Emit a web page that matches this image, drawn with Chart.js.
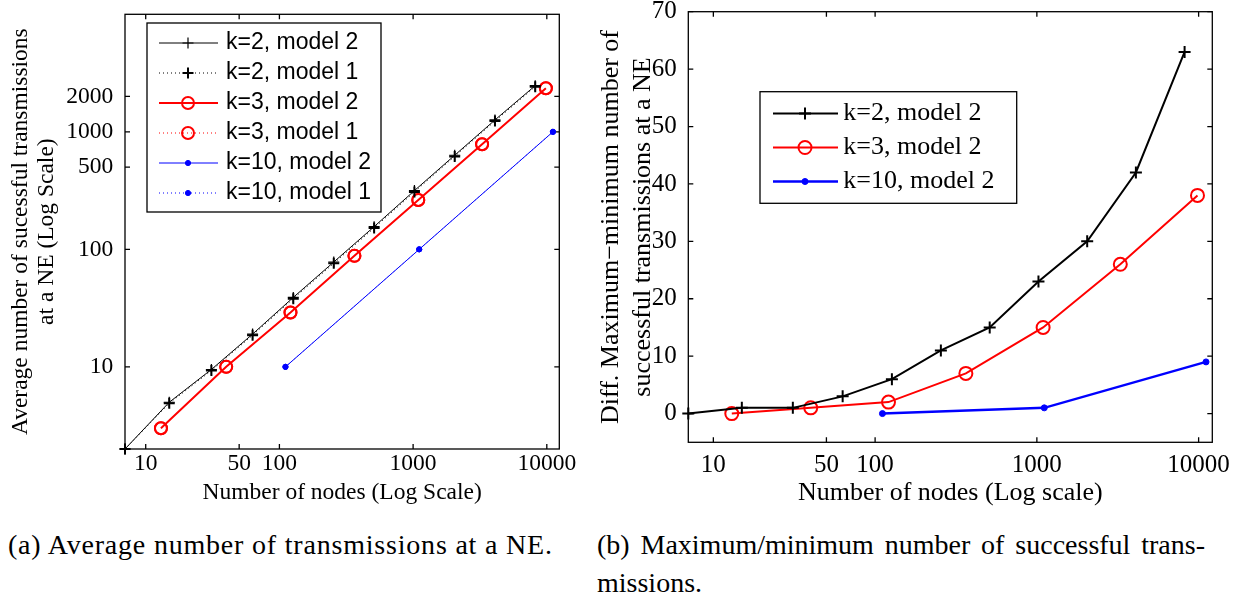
<!DOCTYPE html>
<html>
<head>
<meta charset="utf-8">
<script src="https://cdn.jsdelivr.net/npm/chart.js@4.4.1/dist/chart.umd.min.js"></script>
<style>
  body { margin: 0; background: #fff; width: 1237px; height: 599px; position: relative; overflow: hidden; }
  canvas { position: absolute; top: 0; }
  #avg-chart { left: 0; }
  #diff-chart { left: 590px; }
  .caption { position: absolute; font-family: 'Liberation Serif', serif; font-size: 28px; line-height: 1; color: #000; white-space: nowrap; }
  #cap-a { left: 8px; top: 531px; letter-spacing: 0.8px; }
  #cap-b { left: 597px; top: 531px; width: 608px; text-align: justify; text-align-last: justify; }
  #cap-b2 { left: 597px; top: 569px; }
</style>
</head>
<body>
<canvas id="avg-chart" width="590" height="520"></canvas>
<canvas id="diff-chart" width="647" height="520"></canvas>
<div class="caption" id="cap-a">(a) Average number of transmissions at a NE.</div>
<div class="caption" id="cap-b">(b) Maximum/minimum number of successful trans-</div>
<div class="caption" id="cap-b2">missions.</div>
<script>
// network sizes for each branching factor
const nodesK2 = [7, 15, 31, 63, 127, 255, 511, 1023, 2047, 4095, 8191];
const nodesK3 = [13, 40, 121, 364, 1093, 3280, 9841];
const nodesK10 = [111, 1111, 11111];

// average number of successful transmissions at a NE
const avgK2Model2 = [2, 5, 9.5, 19, 39, 78, 156, 316, 632, 1262, 2470];
const avgK2Model1 = [2, 4.9, 9.3, 18.6, 38, 76, 152, 308, 618, 1235, 2420];
const avgK3Model2 = [3, 10, 29, 88, 263, 784, 2350];
const avgK3Model1 = [3, 10, 29, 88, 263, 784, 2350];
const avgK10Model2 = [10, 100, 1000];
const avgK10Model1 = [10, 100, 1000];

// max - min number of successful transmissions
const diffK2 = [0, 1, 1, 3, 6, 11, 15, 23, 30, 42, 63];
const diffK3 = [0, 1, 2, 7, 15, 26, 38];
const diffK10 = [0, 1, 9];

const nodeTicks = [10, 50, 100, 1000, 10000];
const avgTicks = [10, 100, 500, 1000, 2000];
const diffTicks = [0, 10, 20, 30, 40, 50, 60, 70];

const SERIF = "'Liberation Serif', 'Times New Roman', serif";
const SANS = "'Liberation Sans', Arial, sans-serif";
const BLACK = '#000000', RED = '#ff0000', BLUE = '#0000ff';

function points(xs, ys) {
    return xs.map((x, i) => ({ x, y: ys[i] }));
}

// fixed axis box sizes, no extra room for the end labels
function fixHeight(h) {
    return s => { s.height = h; s.paddingLeft = 0; s.paddingRight = 0; s.paddingTop = 0; s.paddingBottom = 0; };
}
function fixWidth(w) {
    return s => { s.width = w; s.paddingLeft = 0; s.paddingRight = 0; s.paddingTop = 0; s.paddingBottom = 0; };
}

function drawMark(ctx, ds, x, y) {
    const r = ds.pointRadius;
    ctx.save();
    ctx.strokeStyle = ds.borderColor;
    ctx.lineWidth = ds.pointBorderWidth;
    ctx.beginPath();
    if (ds.pointStyle === 'cross') {
        ctx.moveTo(x - r, y); ctx.lineTo(x + r, y);
        ctx.moveTo(x, y - r); ctx.lineTo(x, y + r);
        ctx.stroke();
    } else {
        ctx.arc(x, y, r, 0, Math.PI * 2);
        ctx.fillStyle = ds.pointBackgroundColor;
        ctx.fill();
        ctx.stroke();
    }
    ctx.restore();
}

// box + inward tick marks on all four sides
const frameTicks = {
    id: 'frameTicks',
    beforeDatasetsDraw(chart, args, opts) {
        const { ctx, chartArea: a, scales: { x, y } } = chart;
        const len = opts.length;
        ctx.save();
        ctx.strokeStyle = BLACK;
        ctx.lineWidth = opts.lineWidth;
        ctx.beginPath();
        x.ticks.forEach(t => {
            const px = x.getPixelForValue(t.value);
            ctx.moveTo(px, a.bottom); ctx.lineTo(px, a.bottom - len);
            ctx.moveTo(px, a.top); ctx.lineTo(px, a.top + len);
        });
        y.ticks.forEach(t => {
            const py = y.getPixelForValue(t.value);
            ctx.moveTo(a.left, py); ctx.lineTo(a.left + len, py);
            ctx.moveTo(a.right, py); ctx.lineTo(a.right - len, py);
        });
        ctx.stroke();
        ctx.strokeRect(a.left, a.top, a.right - a.left, a.bottom - a.top);
        ctx.restore();
    }
};

// legend drawn inside the plot box
const boxLegend = {
    id: 'boxLegend',
    afterDraw(chart, args, o) {
        const ctx = chart.ctx;
        ctx.save();
        ctx.fillStyle = '#fff';
        ctx.fillRect(o.left, o.top, o.width, o.height);
        ctx.strokeStyle = BLACK;
        ctx.lineWidth = 1.3;
        ctx.strokeRect(o.left, o.top, o.width, o.height);
        chart.data.datasets.forEach((ds, i) => {
            const yy = o.rows[i];
            ctx.strokeStyle = ds.borderColor;
            ctx.lineWidth = ds.borderWidth;
            ctx.setLineDash(ds.borderDash || []);
            ctx.beginPath();
            ctx.moveTo(o.lineFrom, yy);
            ctx.lineTo(o.lineTo, yy);
            ctx.stroke();
            ctx.setLineDash([]);
            drawMark(ctx, ds, o.markAt, yy);
            ctx.fillStyle = BLACK;
            ctx.font = o.font;
            ctx.textBaseline = 'middle';
            ctx.fillText(ds.label, o.textAt, yy);
        });
        ctx.restore();
    }
};

function series(label, xs, ys, style) {
    return Object.assign({
        label,
        data: points(xs, ys),
        tension: 0,
        clip: false,
        pointBackgroundColor: 'rgba(0,0,0,0)',
        pointHoverRadius: 0
    }, style);
}

const avgChart = new Chart(document.getElementById('avg-chart'), {
    type: 'line',
    data: {
        datasets: [
            series('k=2, model 2', nodesK2, avgK2Model2, {
                borderColor: BLACK, borderWidth: 1, pointStyle: 'cross', pointRadius: 5.5, pointBorderWidth: 1.2
            }),
            series('k=2, model 1', nodesK2, avgK2Model1, {
                borderColor: BLACK, borderWidth: 1, borderDash: [1, 3], pointStyle: 'cross', pointRadius: 5.5, pointBorderWidth: 2
            }),
            series('k=3, model 2', nodesK3, avgK3Model2, {
                borderColor: RED, borderWidth: 2, pointStyle: 'circle', pointRadius: 6, pointBorderWidth: 2
            }),
            series('k=3, model 1', nodesK3, avgK3Model1, {
                borderColor: RED, borderWidth: 1, borderDash: [1, 3], pointStyle: 'circle', pointRadius: 6, pointBorderWidth: 2
            }),
            series('k=10, model 2', nodesK10, avgK10Model2, {
                borderColor: BLUE, borderWidth: 1, pointStyle: 'circle', pointRadius: 2.6, pointBorderWidth: 1, pointBackgroundColor: BLUE
            }),
            series('k=10, model 1', nodesK10, avgK10Model1, {
                borderColor: BLUE, borderWidth: 1, borderDash: [1, 3], pointStyle: 'circle', pointRadius: 2.6, pointBorderWidth: 1, pointBackgroundColor: BLUE
            })
        ]
    },
    options: {
        responsive: false,
        animation: false,
        events: [],
        layout: { padding: { left: 0, top: 14.3, right: 30.7, bottom: 0 } },
        plugins: {
            legend: { display: false },
            tooltip: { enabled: false },
            frameTicks: { length: 5, lineWidth: 1.3 },
            boxLegend: {
                left: 147, top: 23, width: 234, height: 189,
                rows: [43, 73, 103, 133, 163, 193],
                lineFrom: 159, lineTo: 218, markAt: 188, textAt: 226,
                font: '23px ' + SANS
            }
        },
        scales: {
            x: {
                type: 'logarithmic', min: 7, max: 12400,
                afterBuildTicks: s => { s.ticks = nodeTicks.map(v => ({ value: v })); },
                afterFit: fixHeight(71),
                ticks: { callback: v => String(v), autoSkip: false, maxRotation: 0, padding: 0.5, color: BLACK, font: { family: SERIF, size: 23.5 } },
                grid: { display: false, drawTicks: false },
                border: { display: false },
                title: { display: true, text: 'Number of nodes (Log Scale)', color: BLACK, font: { family: SERIF, size: 23.5 }, padding: { top: 0, bottom: 13 } }
            },
            y: {
                type: 'logarithmic', min: 2, max: 10000,
                afterBuildTicks: s => { s.ticks = avgTicks.map(v => ({ value: v })); },
                afterFit: fixWidth(125),
                ticks: { callback: v => String(v), autoSkip: false, padding: 11.7, color: BLACK, font: { family: SERIF, size: 23.5 } },
                grid: { display: false, drawTicks: false },
                border: { display: false },
                title: {
                    display: true,
                    text: ['Average number of sucessful transmissions', 'at a NE (Log Scale)'],
                    color: BLACK,
                    font: { family: SERIF, size: 23.5, lineHeight: 1.1 },
                    padding: { top: 8, bottom: 0 }
                }
            }
        }
    },
    plugins: [frameTicks, boxLegend]
});

const diffChart = new Chart(document.getElementById('diff-chart'), {
    type: 'line',
    data: {
        datasets: [
            series('k=2, model 2', nodesK2, diffK2, {
                borderColor: BLACK, borderWidth: 2, pointStyle: 'cross', pointRadius: 6, pointBorderWidth: 2
            }),
            series('k=3, model 2', nodesK3, diffK3, {
                borderColor: RED, borderWidth: 2, pointStyle: 'circle', pointRadius: 6.5, pointBorderWidth: 2
            }),
            series('k=10, model 2', nodesK10, diffK10, {
                borderColor: BLUE, borderWidth: 2.5, pointStyle: 'circle', pointRadius: 3, pointBorderWidth: 1, pointBackgroundColor: BLUE
            })
        ]
    },
    options: {
        responsive: false,
        animation: false,
        events: [],
        layout: { padding: { left: 0, top: 11.7, right: 24.7, bottom: 0 } },
        plugins: {
            legend: { display: false },
            tooltip: { enabled: false },
            frameTicks: { length: 5, lineWidth: 1.3 },
            boxLegend: {
                left: 170, top: 91.7, width: 256.7, height: 111.6,
                rows: [113.5, 147.5, 181.5],
                lineFrom: 183, lineTo: 248, markAt: 215, textAt: 253.3,
                font: '26px ' + SERIF
            }
        },
        scales: {
            x: {
                type: 'logarithmic', min: 7, max: 12150,
                afterBuildTicks: s => { s.ticks = nodeTicks.map(v => ({ value: v })); },
                afterFit: fixHeight(77.7),
                ticks: { callback: v => String(v), autoSkip: false, maxRotation: 0, padding: 8.5, color: BLACK, font: { family: SERIF, size: 25 } },
                grid: { display: false, drawTicks: false },
                border: { display: false },
                title: { display: true, text: 'Number of nodes (Log scale)', color: BLACK, font: { family: SERIF, size: 26 }, padding: { top: 0, bottom: 11.4 } }
            },
            y: {
                type: 'linear', min: -5, max: 70,
                afterBuildTicks: s => { s.ticks = diffTicks.map(v => ({ value: v })); },
                afterFit: fixWidth(98.3),
                ticks: { callback: v => String(v), autoSkip: false, padding: 11.6, color: BLACK, font: { family: SERIF, size: 25 } },
                grid: { display: false, drawTicks: false },
                border: { display: false },
                title: {
                    display: true,
                    text: ['Diff. Maximum\u2212minimum number of', 'successful transmissions at a NE'],
                    color: BLACK,
                    font: { family: SERIF, size: 26, lineHeight: 1.2 },
                    padding: { top: 5.9, bottom: 0 }
                }
            }
        }
    },
    plugins: [frameTicks, boxLegend]
});
</script>
</body>
</html>
